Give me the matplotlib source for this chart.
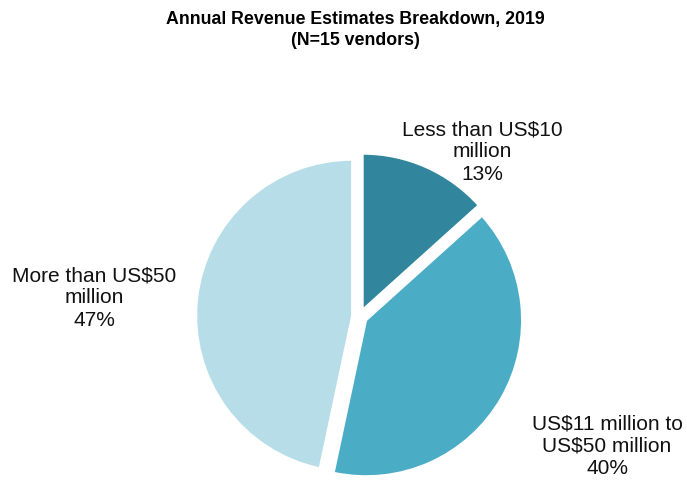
import matplotlib
matplotlib.use("Agg")
import matplotlib.pyplot as plt

plt.rcParams['font.family'] = ['Liberation Sans', 'DejaVu Sans']

categories = ["Less than US$10\nmillion", "US$11 million to\nUS$50 million", "More than US$50\nmillion"]
vendors = [2, 6, 7]
colors = ["#31859C", "#4BACC6", "#B7DEE8"]
title = "Annual Revenue Estimates Breakdown, 2019\n(N=15 vendors)"

W, H = 687, 481
fig = plt.figure(figsize=(W / 100, H / 100), dpi=100)
ax = fig.add_axes([0, 0, 1, 1])

total = sum(vendors)
wedges, _ = ax.pie(vendors, colors=colors, startangle=90, counterclock=False,
                   explode=[0.048] * len(vendors), radius=1.0,
                   wedgeprops=dict(edgecolor='white', linewidth=1.5))

# pie centre and radius in pixels; limits set after pie() so they stick
cx, cy, r = 359.6, 481 - 317.5, 156.0
ax.set_xlim(-cx / r, (W - cx) / r)
ax.set_ylim(-cy / r, (H - cy) / r)
ax.set_aspect('equal')
ax.axis('off')

# label positions in pixels (x from left, y from top)
label_px = [(482, 152), (607, 446), (94, 298)]
for cat, v, (lx, ly) in zip(categories, vendors, label_px):
    pct = round(100 * v / total)
    ax.text((lx - cx) / r, (H - ly - cy) / r, f"{cat}\n{pct}%",
            ha='center', va='center', fontsize=15, linespacing=1.22,
            color='#111111')

fig.text(355 / W, 1 - 30 / H, title, ha='center', va='center',
         fontsize=12.8, fontweight='bold', linespacing=1.3)

fig.savefig("out.png", dpi=100)
